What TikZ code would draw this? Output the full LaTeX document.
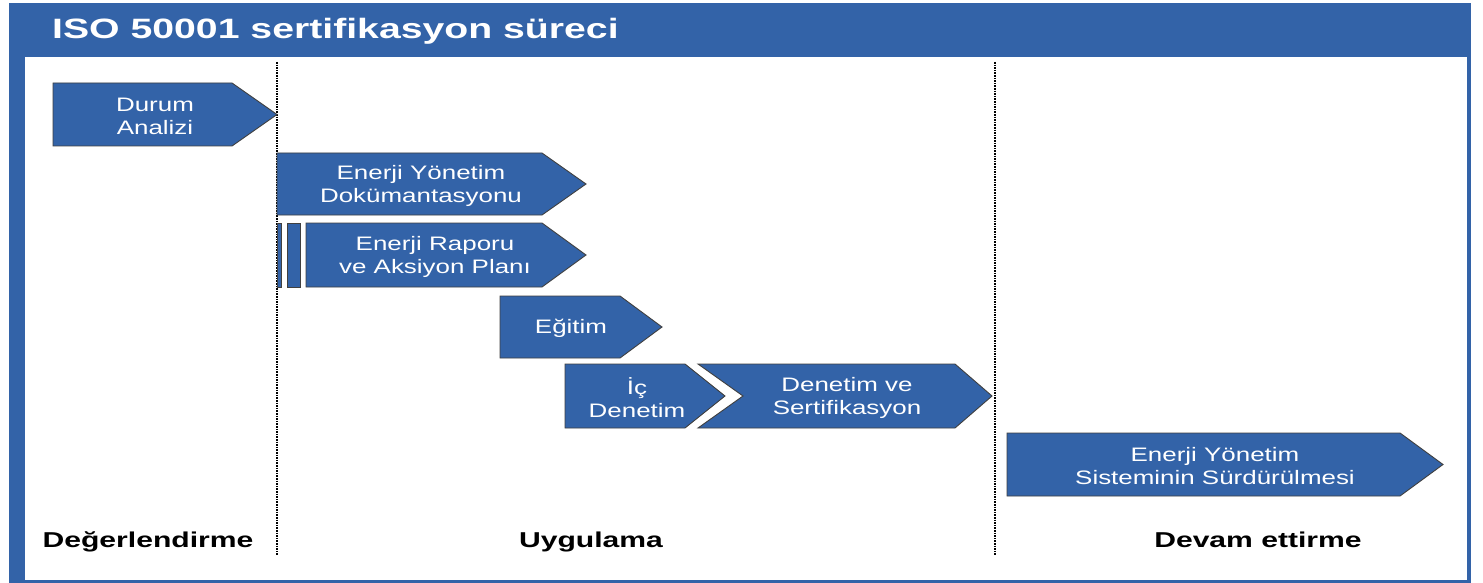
\documentclass[tikz,border=0pt]{standalone}
\usepackage{fontspec}
\setmainfont{Liberation Sans}[FakeStretch=1.4]
\newfontfamily\stagefont{Liberation Sans}[FakeStretch=1.33]
\usepackage{tikz}
\usetikzlibrary{positioning}

\definecolor{isoblue}{RGB}{51,99,168}
\tikzset{
	stage/.style={fill=isoblue, draw=black!75, line width=0.9pt, line join=miter},
	stagetext/.style={text=white, align=center, font=\stagefont\fontsize{19.5}{23}\selectfont},
	phase/.style={anchor=base, font=\bfseries\fontsize{21.5}{26}\selectfont},
	divider/.style={line width=1.4pt, dash pattern=on 1.6pt off 1pt}
}

\begin{document}
\begin{tikzpicture}[x=1pt, y=-1pt]
	\useasboundingbox (0,0) rectangle (1483,583);
%	frame and header
	\fill [isoblue] (9,3) rectangle (1471,583);
	\fill [white] (25,57) rectangle (1467,580);
	\node [anchor=base west, text=white, font=\bfseries\fontsize{28}{34}\selectfont, inner sep=0pt] (title) at (52,39) {ISO 50001 sertifikasyon süreci};
%	phase dividers
	\coordinate (d1top) at (277,62);
	\coordinate (d1bot) at (277,555);
	\coordinate (d2top) at (995,62);
	\coordinate (d2bot) at (995,555);
	\draw [divider] (d1top) -- (d1bot);
	\draw [divider] (d2top) -- (d2bot);
%	stages
	\draw [stage] (53,83) -- (232,83) -- (277,114.5) -- (232,146) -- (53,146) -- cycle;
	\node [stagetext] (durum) at (155,116) {Durum\\Analizi};
	\draw [stage] (277,153) -- (542,153) -- (586,184) -- (542,215) -- (277,215) -- cycle;
	\node [stagetext] (dokuman) at (421,185.5) {Enerji Yönetim\\Dokümantasyonu};
	\draw [stage] (277,223) rectangle (281,287);
	\draw [stage] (287,223) rectangle (300,287);
	\draw [stage] (306,223) -- (542,223) -- (586,255) -- (542,287) -- (306,287) -- cycle;
	\node [stagetext] (rapor) at (435,256.5) {Enerji Raporu\\ve Aksiyon Planı};
	\draw [stage] (500,296) -- (620,296) -- (662,327) -- (620,358) -- (500,358) -- cycle;
	\node [stagetext] (egitim) at (571,328.5) {Eğitim};
	\draw [stage] (565,364) -- (685,364) -- (725,396) -- (685,428) -- (565,428) -- cycle;
	\node [stagetext] (icdenetim) at (637,397.5) {İç\\Denetim};
	\draw [stage] (698,364) -- (955,364) -- (992,396) -- (955,428) -- (698,428) -- (743,396) -- cycle;
	\node [stagetext] (sertifika) at (847,397.5) {Denetim ve\\Sertifikasyon};
	\draw [stage] (1007,433) -- (1400,433) -- (1443,464.5) -- (1400,496) -- (1007,496) -- cycle;
	\node [stagetext] (surdurme) at (1215,466) {Enerji Yönetim\\Sisteminin Sürdürülmesi};
%	phase names
	\node [phase] (degerlendirme) at (148,547) {Değerlendirme};
	\node [phase] (uygulama) at (591,547) {Uygulama};
	\node [phase] (devam) at (1258,547) {Devam ettirme};
\end{tikzpicture}
\end{document}
